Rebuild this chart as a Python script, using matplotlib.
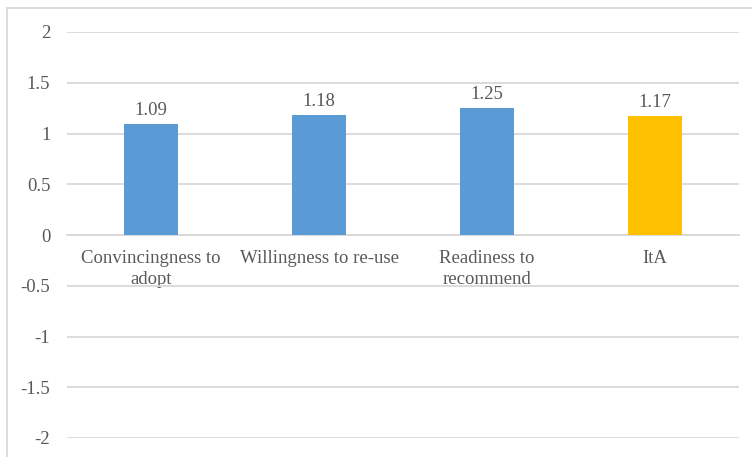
import matplotlib.pyplot as plt
from matplotlib.lines import Line2D

categories = ["Convincingness to\nadopt", "Willingness to re-use",
              "Readiness to\nrecommend", "ItA"]
values = [1.09, 1.18, 1.25, 1.17]
bar_colors = ["#5B9BD5", "#5B9BD5", "#5B9BD5", "#FFC000"]
yticks = [-2, -1.5, -1, -0.5, 0, 0.5, 1, 1.5, 2]
ytick_labels = ["-2", "-1.5", "-1", "-0.5", "0", "0.5", "1", "1.5", "2"]

plt.rcParams['font.family'] = ['Liberation Serif', 'DejaVu Serif']
text_color = "#595959"
grid_color = "#D9D9D9"

fig = plt.figure(figsize=(7.52, 4.57), dpi=100)
ax = fig.add_axes([67 / 752, 19 / 457, 672 / 752, 406 / 457])

x = list(range(len(categories)))
bars = ax.bar(x, values, width=0.32, color=bar_colors, zorder=3)

for rect, v in zip(bars, values):
    ax.annotate(f"{v:.2f}", (rect.get_x() + rect.get_width() / 2, v),
                xytext=(0, 4), textcoords="offset points",
                ha="center", va="bottom", fontsize=13.5, color=text_color)

ax.set_xlim(-0.5, len(categories) - 0.5)
ax.set_ylim(-2, 2)
ax.set_yticks(yticks, ytick_labels)
ax.set_xticks(x, categories)
ax.grid(axis="y", color=grid_color, linewidth=1.3, zorder=0)

for side in ["top", "right", "left"]:
    ax.spines[side].set_visible(False)
ax.spines["bottom"].set_position(("data", 0))
ax.spines["bottom"].set_color(grid_color)
ax.spines["bottom"].set_linewidth(1.3)

ax.tick_params(axis="y", length=0, pad=12, labelsize=13.5, labelcolor=text_color)
ax.tick_params(axis="x", length=0, pad=11, labelsize=13.5, labelcolor=text_color)
for lbl in ax.get_xticklabels():
    lbl.set_linespacing(1.25)

# chart area border (cut off on the right and bottom)
fig.add_artist(Line2D([7 / 752, 1], [1 - 8 / 457, 1 - 8 / 457],
                      transform=fig.transFigure, color=grid_color, linewidth=1.3))
fig.add_artist(Line2D([7 / 752, 7 / 752], [0, 1 - 8 / 457],
                      transform=fig.transFigure, color=grid_color, linewidth=1.3))

fig.savefig("out.png", dpi=100)
